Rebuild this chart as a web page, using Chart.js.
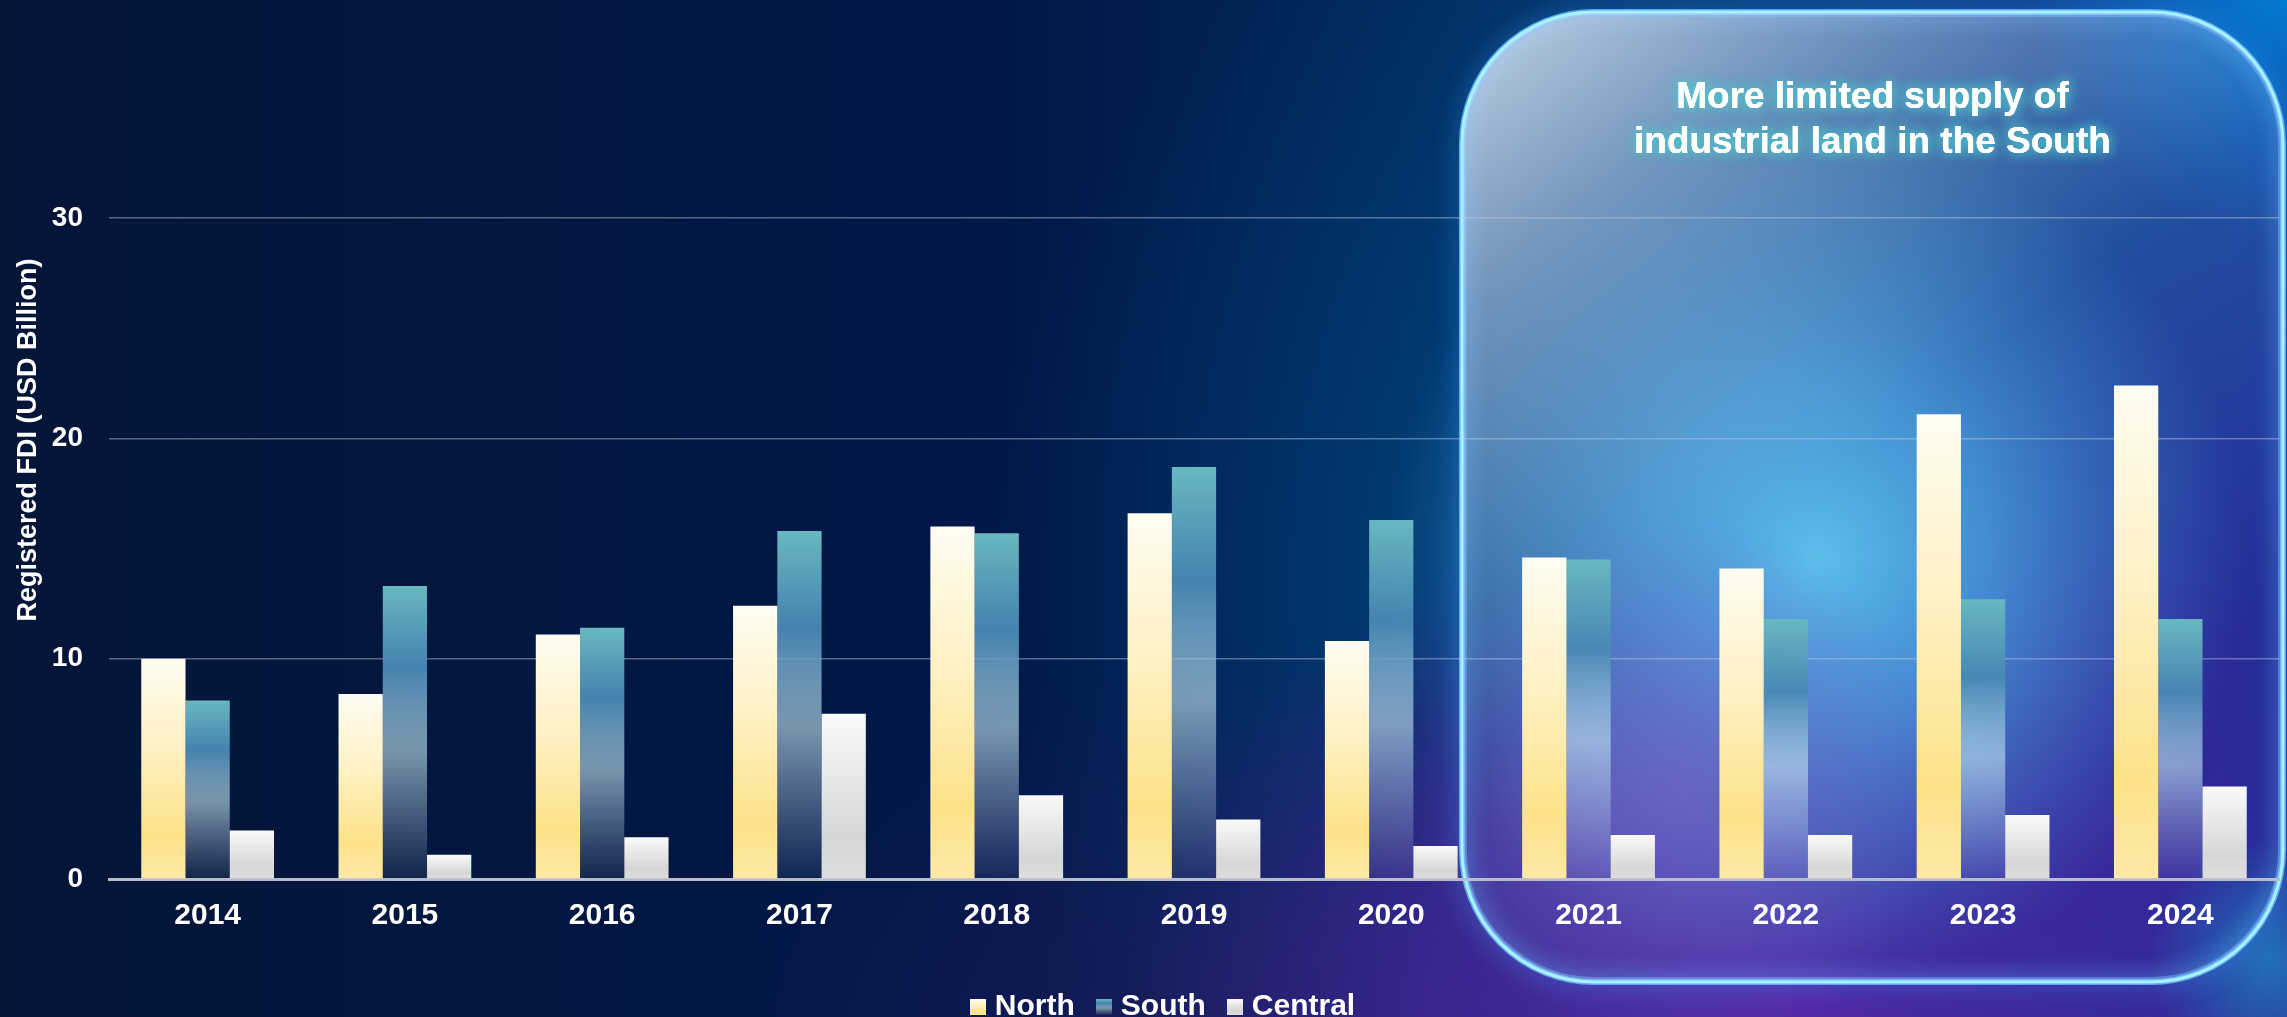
<!DOCTYPE html>
<html>
<head>
<meta charset="utf-8">
<script src="https://cdn.jsdelivr.net/npm/chart.js@4.4.1/dist/chart.umd.min.js"></script>
<style>
  html, body { margin: 0; padding: 0; background: #031538; overflow: hidden; }
  #wrap { position: absolute; left: 0; top: 0; width: 2287px; height: 1032px; }
</style>
</head>
<body>
<div id="wrap"><canvas id="fdiChart"></canvas></div>
<script>
// ==================== DATA ====================
const years = ['2014', '2015', '2016', '2017', '2018', '2019', '2020', '2021', '2022', '2023', '2024'];
const northValues = [10.0, 8.4, 11.1, 12.4, 16.0, 16.6, 10.8, 14.6, 14.1, 21.1, 22.4];
const southValues = [8.1, 13.3, 11.4, 15.8, 15.7, 18.7, 16.3, 14.5, 11.8, 12.7, 11.8];
const centralValues = [2.2, 1.1, 1.9, 7.5, 3.8, 2.7, 1.5, 2.0, 2.0, 2.9, 4.2];
const yTickValues = [0, 10, 20, 30];
const yAxisTitle = 'Registered FDI (USD Billion)';
const calloutLines = ['More limited supply of', 'industrial land in the South'];
const highlightFrom = '2021';

const FONT = "'Liberation Sans', Arial, Helvetica, sans-serif";

// gradient stops for each series (top of bar -> base)
const northStops = [[0, '#fffcf2'], [0.4, '#fef1c4'], [0.8, '#fde28a'], [1, '#fde9a6']];
const southStops = [[0, 'rgba(104,184,192,1)'], [0.28, 'rgba(72,136,180,0.95)'],
  [0.57, 'rgba(190,225,238,0.62)'], [1, 'rgba(190,205,235,0.08)']];
const centralStops = [[0, '#fafafa'], [0.75, '#d6d6d6'], [1, '#dedede']];

function barFill(stops, fallback) {
  return (ctx) => {
    const chart = ctx.chart;
    if (!chart.chartArea || ctx.type !== 'data') return fallback;
    const y = chart.scales.y;
    const top = y.getPixelForValue(ctx.raw);
    const base = y.getPixelForValue(0);
    if (!isFinite(top) || base - top < 1) return fallback;
    const g = chart.ctx.createLinearGradient(0, top, 0, base);
    stops.forEach(s => g.addColorStop(s[0], s[1]));
    return g;
  };
}

function swatch(stops) {
  const c = document.createElement('canvas');
  c.width = 16; c.height = 16;
  const x = c.getContext('2d');
  const g = x.createLinearGradient(0, 0, 0, 16);
  stops.forEach(s => g.addColorStop(s[0], s[1]));
  x.fillStyle = '#0a1a44';
  x.fillRect(0, 0, 16, 16);
  x.fillStyle = g;
  x.fillRect(0, 0, 16, 16);
  return c;
}
const swatches = [swatch(northStops), swatch(southStops), swatch(centralStops)];

// background, highlight box, callout text and rotated axis title
const backdrop = {
  id: 'backdrop',
  afterLayout(chart) {
    // legend sits a little right of centre in the original
    if (chart.legend) { chart.legend.left += 26; chart.legend.right += 26; }
  },
  beforeDraw(chart) {
    const { ctx, width, height, chartArea, scales } = chart;
    ctx.save();
    let g = ctx.createLinearGradient(0, 0, width, 0);
    g.addColorStop(0, '#051538');
    g.addColorStop(0.45, '#001848');
    g.addColorStop(0.62, '#012a5c');
    g.addColorStop(0.78, '#0a3a78');
    g.addColorStop(1, '#1a3a9a');
    ctx.fillStyle = g;
    ctx.fillRect(0, 0, width, height);

    const radial = (x, y, r, stops, sx = 1) => {
      ctx.save();
      ctx.translate(x, y);
      ctx.scale(sx, 1);
      const rg = ctx.createRadialGradient(0, 0, 0, 0, 0, r);
      stops.forEach(s => rg.addColorStop(s[0], s[1]));
      ctx.fillStyle = rg;
      ctx.fillRect(-r, -r, 2 * r, 2 * r);
      ctx.restore();
    };
    radial(1800, 580, 820, [[0, 'rgba(0,100,170,0.6)'], [1, 'rgba(0,90,160,0)']]);
    radial(1300, 1060, 420, [[0, 'rgba(40,28,100,0.7)'], [1, 'rgba(40,28,100,0)']], 1.4);
    radial(1800, 1010, 520, [[0, 'rgba(82,40,168,1)'], [0.55, 'rgba(72,36,158,0.7)'], [1, 'rgba(60,30,140,0)']], 1.3);
    radial(2160, 660, 460, [[0, 'rgba(42,36,150,0.95)'], [1, 'rgba(42,36,150,0)']]);
    radial(2020, 800, 300, [[0, 'rgba(66,38,158,0.6)'], [1, 'rgba(66,38,158,0)']]);
    radial(1816, 560, 430, [[0, 'rgba(85,190,235,1)'], [0.4, 'rgba(70,165,225,0.75)'], [1, 'rgba(60,140,210,0)']]);
    radial(1680, 790, 270, [[0, 'rgba(115,92,195,0.7)'], [1, 'rgba(115,92,195,0)']]);
    radial(2287, -20, 260, [[0, 'rgba(0,130,215,0.95)'], [1, 'rgba(0,130,215,0)']]);
    radial(2270, 960, 120, [[0, 'rgba(30,140,200,0.7)'], [1, 'rgba(30,140,200,0)']]);

    // highlight box
    const x = scales.x;
    const cat = (x.getPixelForValue(1) - x.getPixelForValue(0));
    const bx = x.getPixelForValue(years.indexOf(highlightFrom)) - cat / 2 - 28;
    const by = 12;
    const bw = chartArea.right + 4 - bx;
    const bh = 970;
    const r = 132;
    const path = () => { ctx.beginPath(); ctx.roundRect(bx, by, bw, bh, r); };

    ctx.shadowColor = 'rgba(60,160,255,0.9)';
    ctx.shadowBlur = 22;
    ctx.strokeStyle = 'rgba(110,190,255,0.8)';
    ctx.lineWidth = 6;
    path(); ctx.stroke();
    ctx.shadowColor = 'transparent';
    ctx.shadowBlur = 0;

    g = ctx.createLinearGradient(bx, by, bx + bw * 0.75, by + bh * 0.8);
    g.addColorStop(0, 'rgba(230,240,252,0.85)');
    g.addColorStop(0.3, 'rgba(205,222,245,0.45)');
    g.addColorStop(0.6, 'rgba(170,195,240,0.1)');
    g.addColorStop(1, 'rgba(150,180,240,0)');
    ctx.fillStyle = g;
    path(); ctx.fill();

    ctx.save();
    path(); ctx.clip();
    ctx.shadowColor = 'rgba(140,200,255,0.9)';
    ctx.shadowBlur = 24;
    ctx.lineWidth = 10;
    ctx.strokeStyle = 'rgba(140,200,255,0.4)';
    path(); ctx.stroke();
    ctx.restore();

    ctx.lineWidth = 3;
    ctx.strokeStyle = '#a6f2ff';
    path(); ctx.stroke();
    chart.$box = { bx, bw };
    ctx.restore();
  },
  afterDraw(chart) {
    const { ctx } = chart;
    const { bx, bw } = chart.$box;
    ctx.save();
    ctx.font = `bold 37px ${FONT}`;
    ctx.textAlign = 'center';
    ctx.textBaseline = 'alphabetic';
    ctx.fillStyle = '#ffffff';
    ctx.shadowColor = 'rgba(80,200,205,0.95)';
    ctx.shadowBlur = 14;
    calloutLines.forEach((line, i) => {
      ctx.fillText(line, bx + bw / 2, 108 + i * 45);
      ctx.fillText(line, bx + bw / 2, 108 + i * 45);
    });
    ctx.shadowColor = 'transparent';
    ctx.shadowBlur = 0;
    calloutLines.forEach((line, i) => ctx.fillText(line, bx + bw / 2, 108 + i * 45));

    ctx.translate(29, 440);
    ctx.rotate(-Math.PI / 2);
    ctx.font = `bold 27px ${FONT}`;
    ctx.textBaseline = 'middle';
    ctx.fillText(yAxisTitle, 0, 0);
    ctx.restore();
  }
};

const ctx = document.getElementById('fdiChart');
new Chart(ctx, {
  type: 'bar',
  data: {
    labels: years,
    datasets: [
      { label: 'North', data: northValues, backgroundColor: barFill(northStops, '#fde9a6') },
      { label: 'South', data: southValues, backgroundColor: barFill(southStops, '#4a88b4') },
      { label: 'Central', data: centralValues, backgroundColor: barFill(centralStops, '#e0e0e0') }
    ]
  },
  options: {
    responsive: true,
    maintainAspectRatio: false,
    animation: false,
    layout: { padding: { left: 0, right: 8, top: 108, bottom: 0 } },
    datasets: { bar: { categoryPercentage: 0.673, barPercentage: 1.0, borderWidth: 0 } },
    plugins: {
      tooltip: { enabled: false },
      legend: {
        position: 'bottom',
        labels: {
          color: '#ffffff',
          font: { family: FONT, size: 30, weight: 'bold' },
          usePointStyle: true,
          pointStyleWidth: 4,
          boxHeight: 16,
          padding: 27,
          generateLabels(chart) {
            const items = Chart.defaults.plugins.legend.labels.generateLabels(chart);
            items.forEach((it, i) => { it.pointStyle = swatches[i]; it.fillStyle = '#ffffff'; it.lineWidth = 0; });
            return items;
          }
        }
      }
    },
    scales: {
      x: {
        grid: { display: false, drawTicks: false },
        border: { display: true, color: '#b8bcc8', width: 3 },
        ticks: { color: '#ffffff', padding: 19, font: { family: FONT, size: 30, weight: 'bold' } },
        afterFit(scale) { scale.height = 86; }
      },
      y: {
        min: 0,
        max: 35,
        grid: { color: 'rgba(190,200,220,0.45)', lineWidth: 1.5, drawTicks: false },
        border: { display: false },
        ticks: { color: '#ffffff', padding: 26, font: { family: FONT, size: 28, weight: 'bold' } },
        afterBuildTicks(scale) { scale.ticks = yTickValues.map(v => ({ value: v })); },
        afterFit(scale) { scale.width = 109; }
      }
    }
  },
  plugins: [backdrop]
});
</script>
</body>
</html>
